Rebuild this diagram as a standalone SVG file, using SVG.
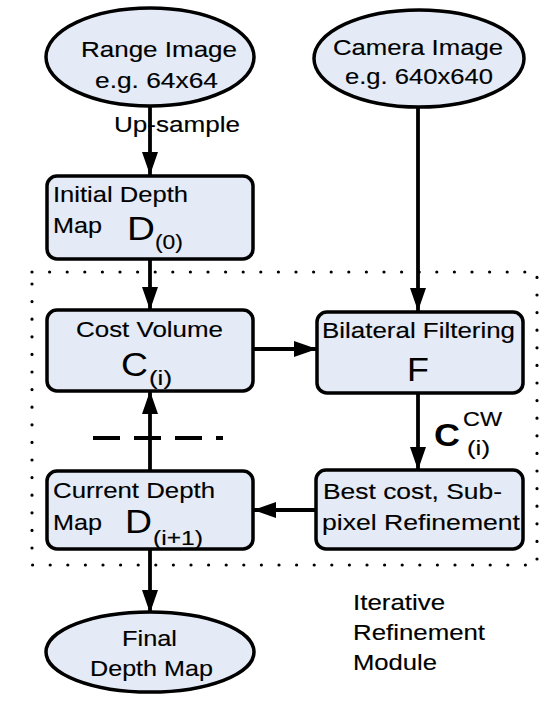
<svg xmlns="http://www.w3.org/2000/svg" width="556" height="710" viewBox="0 0 556 710">
<style>
.shape{fill:#e5ebf6;stroke:#000;stroke-width:3.5}
.t{font-family:"Liberation Sans",Arial,sans-serif;font-size:22px;fill:#000;stroke:#000;stroke-width:0.15}
.big{font-family:"Liberation Sans",Arial,sans-serif;font-size:34px;fill:#000}
.sub{font-family:"Liberation Sans",Arial,sans-serif;font-size:20px;fill:#000;stroke:#000;stroke-width:0.15}
.line{stroke:#000;stroke-width:3.8;fill:none}
</style>
<defs>
<marker id="ah" markerUnits="userSpaceOnUse" markerWidth="24" markerHeight="16" refX="23" refY="8" orient="auto">
<path d="M0,0 L23,8 L0,16 z" fill="#000"/>
</marker>
</defs>
<rect id="module-border" x="32" y="272" width="505" height="293" fill="none" stroke="#000" stroke-width="3.2" stroke-linecap="round" stroke-dasharray="0 17.6"/>
<g id="connectors">
<line class="line" x1="150" y1="107" x2="150" y2="175" marker-end="url(#ah)"/>
<line class="line" x1="418" y1="107" x2="418" y2="311" marker-end="url(#ah)"/>
<line class="line" x1="150" y1="259" x2="150" y2="310" marker-end="url(#ah)"/>
<line class="line" x1="253" y1="349" x2="317" y2="349" marker-end="url(#ah)"/>
<line class="line" x1="418" y1="393" x2="418" y2="470" marker-end="url(#ah)"/>
<line class="line" x1="316" y1="510" x2="253" y2="510" marker-end="url(#ah)"/>
<line class="line" x1="150" y1="471" x2="150" y2="391" marker-end="url(#ah)"/>
<line class="line" x1="150" y1="549" x2="150" y2="613" marker-end="url(#ah)"/>
<line x1="93" y1="438" x2="223" y2="438" stroke="#000" stroke-width="4" stroke-dasharray="27 14"/>
<text class="t" transform="translate(114,132) scale(1.18,1)" textLength="106.8" lengthAdjust="spacingAndGlyphs">Up-sample</text>
<text transform="translate(434,446) scale(1.18,1)" font-family="'Liberation Sans',Arial,sans-serif" font-size="32" font-weight="bold" textLength="22" lengthAdjust="spacingAndGlyphs">C</text>
<text class="sub" transform="translate(463,426) scale(1.18,1)" textLength="33" lengthAdjust="spacingAndGlyphs">CW</text>
<text class="sub" transform="translate(467,455) scale(1.18,1)" textLength="19.5" lengthAdjust="spacingAndGlyphs">(i)</text>
</g>
<g id="range-image">
<ellipse class="shape" cx="150" cy="57" rx="104" ry="49"/>
<text class="t" transform="translate(81,57) scale(1.18,1)" textLength="132.2" lengthAdjust="spacingAndGlyphs">Range Image</text>
<text class="t" transform="translate(95,88) scale(1.18,1)" textLength="104.2" lengthAdjust="spacingAndGlyphs">e.g. 64x64</text>
</g>
<g id="camera-image">
<ellipse class="shape" cx="419" cy="58.5" rx="105" ry="48.5"/>
<text class="t" transform="translate(333,55) scale(1.18,1)" textLength="144.1" lengthAdjust="spacingAndGlyphs">Camera Image</text>
<text class="t" transform="translate(345,84) scale(1.18,1)" textLength="125.4" lengthAdjust="spacingAndGlyphs">e.g. 640x640</text>
</g>
<g id="initial-depth">
<rect class="shape" x="47" y="176" width="206" height="83" rx="10"/>
<text class="t" transform="translate(53,202) scale(1.18,1)" textLength="114.4" lengthAdjust="spacingAndGlyphs">Initial Depth</text>
<text class="t" transform="translate(53,233) scale(1.18,1)" textLength="41.5" lengthAdjust="spacingAndGlyphs">Map</text>
<text class="big" transform="translate(127,240) scale(1.18,1)" textLength="23.7" lengthAdjust="spacingAndGlyphs">D</text>
<text class="sub" transform="translate(155,249) scale(1.18,1)" textLength="23.7" lengthAdjust="spacingAndGlyphs">(0)</text>
</g>
<g id="cost-volume">
<rect class="shape" x="47" y="310" width="206" height="81" rx="10"/>
<text class="t" transform="translate(76,337) scale(1.18,1)" textLength="124.6" lengthAdjust="spacingAndGlyphs">Cost Volume</text>
<text class="big" transform="translate(121,376) scale(1.18,1)" textLength="22.9" lengthAdjust="spacingAndGlyphs">C</text>
<text class="sub" transform="translate(149,385) scale(1.18,1)" textLength="19.5" lengthAdjust="spacingAndGlyphs">(i)</text>
</g>
<g id="bilateral">
<rect class="shape" x="317" y="312" width="206" height="81" rx="10"/>
<text class="t" transform="translate(322,338) scale(1.18,1)" textLength="163.6" lengthAdjust="spacingAndGlyphs">Bilateral Filtering</text>
<text class="big" transform="translate(407,381) scale(1.18,1)" textLength="18.6" lengthAdjust="spacingAndGlyphs">F</text>
</g>
<g id="best-cost">
<rect class="shape" x="316" y="470" width="207" height="79" rx="10"/>
<text class="t" transform="translate(323,499) scale(1.18,1)" textLength="151.7" lengthAdjust="spacingAndGlyphs">Best cost, Sub-</text>
<text class="t" transform="translate(322,530) scale(1.18,1)" textLength="167.8" lengthAdjust="spacingAndGlyphs">pixel Refinement</text>
</g>
<g id="current-depth">
<rect class="shape" x="47" y="471" width="206" height="78" rx="10"/>
<text class="t" transform="translate(53,498) scale(1.18,1)" textLength="137.3" lengthAdjust="spacingAndGlyphs">Current Depth</text>
<text class="t" transform="translate(53,530) scale(1.18,1)" textLength="41.5" lengthAdjust="spacingAndGlyphs">Map</text>
<text class="big" transform="translate(125,533) scale(1.18,1)" textLength="22.9" lengthAdjust="spacingAndGlyphs">D</text>
<text class="sub" transform="translate(153,545) scale(1.18,1)" textLength="42.4" lengthAdjust="spacingAndGlyphs">(i+1)</text>
</g>
<g id="final-depth">
<ellipse class="shape" cx="150" cy="652" rx="104" ry="40"/>
<text class="t" transform="translate(122,646) scale(1.18,1)" textLength="46.6" lengthAdjust="spacingAndGlyphs">Final</text>
<text class="t" transform="translate(90,676) scale(1.18,1)" textLength="104.2" lengthAdjust="spacingAndGlyphs">Depth Map</text>
</g>
<g id="module-label">
<text class="t" transform="translate(353,610) scale(1.18,1)" textLength="78" lengthAdjust="spacingAndGlyphs">Iterative</text>
<text class="t" transform="translate(353,640) scale(1.18,1)" textLength="111.9" lengthAdjust="spacingAndGlyphs">Refinement</text>
<text class="t" transform="translate(353,670) scale(1.18,1)" textLength="71.2" lengthAdjust="spacingAndGlyphs">Module</text>
</g>
</svg>
